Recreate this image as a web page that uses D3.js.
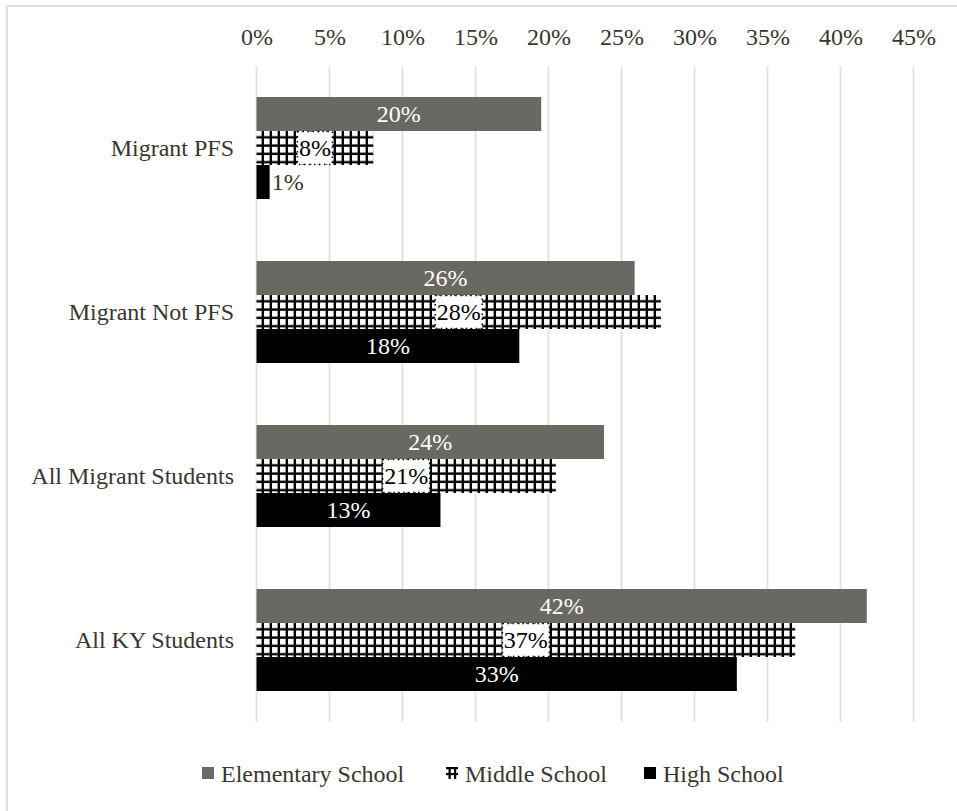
<!DOCTYPE html>
<html>
<head>
<meta charset="utf-8">
<script src="https://cdn.jsdelivr.net/npm/d3@7"></script>
<style>
  html, body { margin: 0; padding: 0; background: #fff; }
  svg { display: block; }
  text { font-family: "Liberation Serif", "Times New Roman", serif; }
</style>
</head>
<body>
<svg id="chart" width="957" height="811"></svg>
<script>
// Share of students by group and school level
const categories = ["Migrant PFS", "Migrant Not PFS", "All Migrant Students", "All KY Students"];
const seriesNames = ["Elementary School", "Middle School", "High School"];
const elementary = [0.195, 0.259, 0.238, 0.418];
const middle     = [0.080, 0.277, 0.205, 0.369];
const high       = [0.009, 0.180, 0.126, 0.329];
const tickValues = [0, 0.05, 0.10, 0.15, 0.20, 0.25, 0.30, 0.35, 0.40, 0.45];

const seriesValues = [elementary, middle, high];
const data = categories.map((c, i) => ({
  category: c,
  values: seriesNames.map((s, j) => ({ series: s, value: seriesValues[j][i] }))
}));

const textColor = "#3a3631";
const gridColor = "#e4e1da";
const elemColor = "#6a6863";
const highColor = "#000000";

const svg = d3.select("#chart");

// outer frame
svg.append("rect")
  .attr("x", 7).attr("y", 6)
  .attr("width", 980).attr("height", 840)
  .attr("fill", "none")
  .attr("stroke", "#e3e0d8")
  .attr("stroke-width", 2);

// grid pattern for middle school bars
const defs = svg.append("defs");
const pat = defs.append("pattern")
  .attr("id", "grid")
  .attr("patternUnits", "userSpaceOnUse")
  .attr("width", 8).attr("height", 8.3);
pat.append("rect").attr("width", 8).attr("height", 8.3).attr("fill", "#fff");
pat.append("rect").attr("x", 5.6).attr("y", 0).attr("width", 2.4).attr("height", 8.3).attr("fill", "#000");
pat.append("rect").attr("x", 0).attr("y", 5.9).attr("width", 8).attr("height", 2.4).attr("fill", "#000");

const fills = { "Elementary School": elemColor, "Middle School": "url(#grid)", "High School": highColor };

const x = d3.scaleLinear().domain([0, 0.45]).range([256.5, 913.5]);
const y0 = d3.scaleBand().domain(categories).range([66, 722]).paddingInner(0.378).paddingOuter(0.189);
const y1 = d3.scaleBand().domain(seriesNames).range([0, y0.bandwidth()]).padding(0);

// vertical gridlines
svg.append("g")
  .selectAll("line")
  .data(tickValues)
  .join("line")
  .attr("x1", d => x(d)).attr("x2", d => x(d))
  .attr("y1", 66.5).attr("y2", 722)
  .attr("stroke", gridColor)
  .attr("stroke-width", 1.8);

// top axis labels
const xAxis = d3.axisTop(x).tickValues(tickValues).tickFormat(d3.format(".0%")).tickSize(0).tickPadding(0);
const gx = svg.append("g").attr("transform", "translate(0,45)").call(xAxis);
gx.select(".domain").remove();
gx.selectAll("text")
  .attr("font-size", 24)
  .attr("fill", textColor)
  .attr("font-family", "Liberation Serif, serif")
  .attr("dy", 0);

// category labels
svg.append("g")
  .selectAll("text")
  .data(categories)
  .join("text")
  .attr("x", 234)
  .attr("y", d => y0(d) + y0.bandwidth() / 2)
  .attr("text-anchor", "end")
  .attr("dominant-baseline", "central")
  .attr("font-size", 24)
  .attr("fill", textColor)
  .text(d => d);

const fmt = v => Math.round(v * 100) + "%";

const groups = svg.append("g")
  .selectAll("g")
  .data(data)
  .join("g")
  .attr("transform", d => `translate(0,${y0(d.category)})`);

groups.selectAll("rect.bar")
  .data(d => d.values)
  .join("rect")
  .attr("class", "bar")
  .attr("x", x(0))
  .attr("y", d => y1(d.series))
  .attr("width", d => x(d.value) - x(0))
  .attr("height", y1.bandwidth())
  .attr("fill", d => fills[d.series]);

// value labels
groups.each(function(gd) {
  const g = d3.select(this);
  gd.values.forEach(d => {
    const yc = y1(d.series) + y1.bandwidth() / 2;
    const w = x(d.value) - x(0);
    const t = g.append("text")
      .attr("y", yc)
      .attr("dominant-baseline", "central")
      .attr("font-size", 24)
      .text(fmt(d.value));
    if (d.series === "Middle School") {
      t.attr("x", x(0) + w / 2).attr("text-anchor", "middle").attr("fill", "#000");
      const bb = t.node().getBBox();
      g.insert("rect", () => t.node())
        .attr("x", bb.x - 1.5)
        .attr("y", y1(d.series) + 0.5)
        .attr("width", bb.width + 3)
        .attr("height", y1.bandwidth() - 1)
        .attr("fill", "#fff")
        .attr("stroke", "#000")
        .attr("stroke-width", 1.5)
        .attr("stroke-dasharray", "1.5,3.5");
    } else if (w > 50) {
      t.attr("x", x(0) + w / 2).attr("text-anchor", "middle").attr("fill", "#fff");
    } else {
      t.attr("x", x(d.value) + 2).attr("text-anchor", "start").attr("fill", textColor);
    }
  });
});

// legend
const legendItems = [
  { name: "Elementary School", x: 202 },
  { name: "Middle School", x: 446 },
  { name: "High School", x: 644 }
];
const lg = svg.append("g");
legendItems.forEach(item => {
  const sw = item.name === "Middle School"
    ? lg.append("g")
    : null;
  if (item.name === "Middle School") {
    // small grid swatch
    sw.append("rect").attr("x", item.x).attr("y", 767).attr("width", 12).attr("height", 12).attr("fill", "#fff");
    sw.append("rect").attr("x", item.x).attr("y", 767).attr("width", 12).attr("height", 2.2).attr("fill", "#000");
    sw.append("rect").attr("x", item.x).attr("y", 773).attr("width", 12).attr("height", 2.2).attr("fill", "#000");
    sw.append("rect").attr("x", item.x + 2.5).attr("y", 767).attr("width", 2.2).attr("height", 12).attr("fill", "#000");
    sw.append("rect").attr("x", item.x + 8).attr("y", 767).attr("width", 2.2).attr("height", 12).attr("fill", "#000");
  } else {
    lg.append("rect")
      .attr("x", item.x).attr("y", 767)
      .attr("width", 12).attr("height", 12)
      .attr("fill", fills[item.name]);
  }
  lg.append("text")
    .attr("x", item.x + 19)
    .attr("y", 774)
    .attr("dominant-baseline", "central")
    .attr("font-size", 24)
    .attr("fill", textColor)
    .text(item.name);
});
</script>
</body>
</html>
